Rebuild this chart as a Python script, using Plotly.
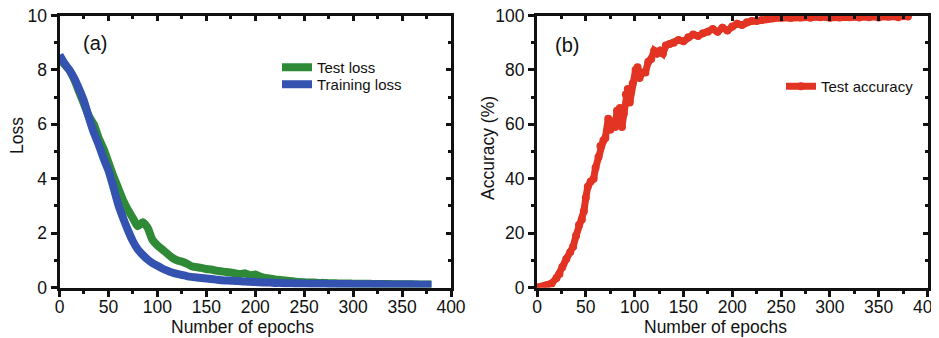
import plotly.graph_objects as go

# ---------------- data ----------------
loss_epochs = list(range(0, 381, 5))

training_loss = [8.55, 8.25, 8.0, 7.7, 7.3, 6.85, 6.25, 5.7, 5.25, 4.75,
                 4.3, 3.7, 3.05, 2.55, 2.1, 1.7, 1.4, 1.2, 1.03, 0.9,
                 0.8, 0.7, 0.62, 0.55, 0.5, 0.46, 0.42, 0.39, 0.37, 0.35,
                 0.33, 0.31, 0.29, 0.27, 0.26, 0.25, 0.24, 0.23, 0.22, 0.21,
                 0.2, 0.19, 0.18, 0.18, 0.17, 0.17, 0.16, 0.16, 0.15, 0.15,
                 0.15, 0.14, 0.14, 0.14, 0.14, 0.13, 0.13, 0.13, 0.13, 0.13,
                 0.12, 0.12, 0.12, 0.12, 0.12, 0.12, 0.12, 0.11, 0.11, 0.11,
                 0.11, 0.11, 0.11, 0.11, 0.1, 0.1, 0.1]

test_loss = [8.5, 8.2, 8.0, 7.65, 7.2, 6.75, 6.3, 6.0, 5.5, 5.1,
             4.6, 4.1, 3.65, 3.2, 2.85, 2.55, 2.25, 2.4, 2.2, 1.75,
             1.55, 1.4, 1.25, 1.1, 1.0, 0.95, 0.88, 0.78, 0.75, 0.72,
             0.68, 0.66, 0.62, 0.6, 0.57, 0.55, 0.52, 0.5, 0.52, 0.45,
             0.48, 0.4, 0.35, 0.33, 0.3, 0.28, 0.26, 0.24, 0.22, 0.2,
             0.19, 0.18, 0.18, 0.17, 0.17, 0.16, 0.16, 0.15, 0.15, 0.15,
             0.14, 0.14, 0.14, 0.14, 0.13, 0.13, 0.13, 0.13, 0.12, 0.12,
             0.12, 0.12, 0.12, 0.11, 0.11, 0.11, 0.11]

acc_epochs = [0, 5, 10, 15, 20, 23, 26, 30, 34, 37, 40, 43, 46, 48, 50, 52, 55,
              58, 60, 63, 65, 68, 70, 73, 75, 77, 80, 82, 85, 87, 89, 91, 93,
              95, 98, 101, 103, 105, 108, 111, 114, 117, 120, 123, 126, 129,
              132, 136, 140, 145, 150, 155, 160, 165, 170, 175, 180, 185, 190,
              195, 200, 205, 210, 215, 220, 225, 230, 235, 240, 250, 260, 270,
              280, 290, 300, 310, 320, 330, 340, 350, 360, 370, 380]

test_accuracy = [0, 0.3, 0.8, 1.5, 3.5, 5, 7.5, 10.5, 13, 15, 19, 23, 25, 28,
                 33, 37, 39, 40, 44, 48, 52, 54, 55, 62, 58, 61, 59, 65, 66,
                 59, 64, 71, 73, 68, 75, 80, 81, 77, 79, 79, 83, 84, 87, 86,
                 87, 86, 89, 89.5, 90, 91, 90.5, 92, 93, 92.5, 93.5, 94, 95,
                 94, 95.5, 94.5, 96, 97, 96.5, 97.5, 98, 98, 98.3, 98.6, 99,
                 99.2, 99.1, 99.3, 99.2, 99.4, 99.2, 99.3, 99.4, 99.3, 99.4,
                 99.3, 99.5, 99.4, 99.6]

x_ticks = [0, 50, 100, 150, 200, 250, 300, 350, 400]
loss_ticks = [0, 2, 4, 6, 8, 10]
acc_ticks = [0, 20, 40, 60, 80, 100]

# ---------------- styling ----------------
GREEN = "#2f8a38"
BLUE = "#3452b0"
RED = "#e23323"
FONT = "Liberation Sans, Arial, sans-serif"
INK = "#111"

# the page body has an 8px margin, so figure coordinates = page pixels - 8
OFF = 8
W, H = 931, 330

def px(p):
    return (p - OFF) / W

def py(p):
    return 1 - (p - OFF) / H

L_X = (px(59.5), px(451))
R_X = (px(537), px(927.5))
Y_D = (py(287.5), py(15.5))

fig = go.Figure()

fig.add_trace(go.Scatter(x=loss_epochs, y=test_loss, name="Test loss",
                         mode="lines", line=dict(color=GREEN, width=8, shape="spline", smoothing=0.6),
                         xaxis="x", yaxis="y", legend="legend"))
fig.add_trace(go.Scatter(x=loss_epochs, y=training_loss, name="Training loss",
                         mode="lines", line=dict(color=BLUE, width=8, shape="spline", smoothing=0.6),
                         xaxis="x", yaxis="y", legend="legend3"))
fig.add_trace(go.Scatter(x=acc_epochs, y=test_accuracy, name="Test accuracy",
                         mode="lines+markers", line=dict(color=RED, width=7),
                         marker=dict(color=RED, size=8),
                         xaxis="x2", yaxis="y2", legend="legend2"))
# invisible anchors for mirrored (top/right) axes
fig.add_trace(go.Scatter(x=[None], y=[None], xaxis="x3", yaxis="y3", showlegend=False))
fig.add_trace(go.Scatter(x=[None], y=[None], xaxis="x4", yaxis="y4", showlegend=False))

tickfont = dict(family=FONT, size=17.5, color=INK)

def base_x(domain, anchor):
    return dict(domain=domain, anchor=anchor, range=[0, 400], tickvals=x_ticks,
                ticks="outside", ticklen=6, tickwidth=2.5, tickcolor=INK,
                showline=True, linecolor=INK, linewidth=3, showgrid=False,
                zeroline=False, tickfont=tickfont, automargin=False,
                ticklabeloverflow="allow", ticklabelstandoff=-5,
                minor=dict(ticks="outside", ticklen=3, tickwidth=2.5,
                           tickcolor=INK, dtick=25, tick0=0, showgrid=False))

def base_y(domain, anchor, rng, tv, minor_dtick):
    return dict(domain=domain, anchor=anchor, range=rng, tickvals=tv,
                ticks="outside", ticklen=6, tickwidth=2.5, tickcolor=INK,
                showline=True, linecolor=INK, linewidth=3, showgrid=False,
                zeroline=False, tickfont=tickfont, automargin=False,
                ticklabeloverflow="allow",
                minor=dict(ticks="outside", ticklen=3, tickwidth=2.5,
                           tickcolor=INK, dtick=minor_dtick, tick0=0, showgrid=False))

def mirror_x(over, anchor, domain):
    return dict(overlaying=over, side="top", anchor=anchor, domain=domain,
                range=[0, 400], tickvals=x_ticks, ticks="inside", ticklen=5,
                tickwidth=2.5, tickcolor=INK, showticklabels=False,
                showline=True, linecolor=INK, linewidth=3, showgrid=False,
                zeroline=False, automargin=False,
                minor=dict(ticks="inside", ticklen=3, tickwidth=2.5,
                           tickcolor=INK, dtick=25, tick0=0, showgrid=False))

def mirror_y(over, anchor, domain, rng, tv, md):
    return dict(overlaying=over, side="right", anchor=anchor, domain=domain,
                range=rng, tickvals=tv, ticks="inside", ticklen=5,
                tickwidth=2.5, tickcolor=INK, showticklabels=False,
                showline=True, linecolor=INK, linewidth=3, showgrid=False,
                zeroline=False, automargin=False,
                minor=dict(ticks="inside", ticklen=3, tickwidth=2.5,
                           tickcolor=INK, dtick=md, tick0=0, showgrid=False))

legfont = dict(family=FONT, size=15, color=INK)

def leg(xp, yp):
    return dict(x=px(xp), y=py(yp), xanchor="left", yanchor="top",
                bgcolor="rgba(0,0,0,0)", font=legfont, itemwidth=30)

def ann(text, xp, yp, size=17.5, angle=0):
    return dict(text=text, x=px(xp), y=py(yp), xref="paper", yref="paper",
                xanchor="center", yanchor="middle", showarrow=False,
                textangle=angle, font=dict(family=FONT, size=size, color=INK))

fig.update_layout(
    width=W, height=H,
    margin=dict(l=0, r=0, t=0, b=0, autoexpand=False),
    paper_bgcolor="white", plot_bgcolor="white",
    font=dict(family=FONT, color=INK),
    xaxis=base_x(L_X, "y"),
    yaxis=base_y(Y_D, "x", [0, 10], loss_ticks, 1),
    xaxis2=base_x(R_X, "y2"),
    yaxis2=base_y(Y_D, "x2", [0, 100], acc_ticks, 10),
    xaxis3=mirror_x("x", "y3", L_X),
    yaxis3=mirror_y("y", "x3", Y_D, [0, 10], loss_ticks, 1),
    xaxis4=mirror_x("x2", "y4", R_X),
    yaxis4=mirror_y("y2", "x4", Y_D, [0, 100], acc_ticks, 10),
    legend=leg(277, 51),
    legend3=leg(277, 68),
    legend2=leg(781, 70),
    showlegend=True,
    annotations=[
        ann("(a)", 94.5, 43, size=20),
        ann("(b)", 567, 45, size=20),
        ann("Number of epochs", 242.5, 327),
        ann("Number of epochs", 715, 327),
        ann("Loss", 17, 136, angle=-90),
        ann("Accuracy (%)", 488, 148, angle=-90),
    ],
)

fig.write_html("out.html")
